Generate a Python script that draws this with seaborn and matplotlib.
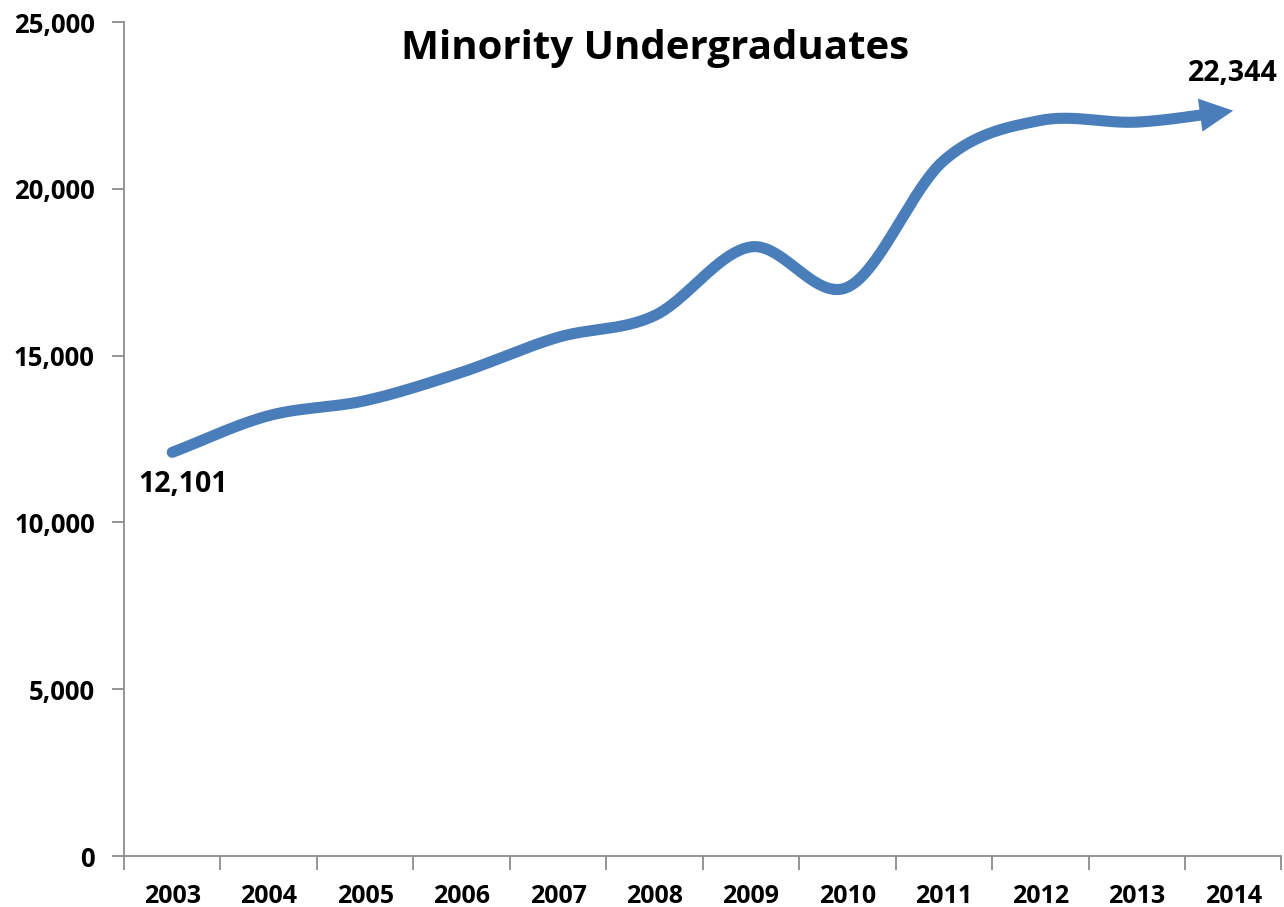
import numpy as np
import seaborn as sns
import matplotlib.pyplot as plt
from matplotlib.ticker import FuncFormatter, FixedLocator

years = ["2003", "2004", "2005", "2006", "2007", "2008",
         "2009", "2010", "2011", "2012", "2013", "2014"]
students = [12101, 13200, 13650, 14500, 15550, 16200,
            18260, 17050, 20850, 22050, 22000, 22344]
title = "Minority Undergraduates"
line_color = "#4A7EBB"

sns.set_style("white")
plt.rcParams['font.family'] = ['Open Sans', 'DejaVu Sans']
plt.rcParams['text.color'] = 'black'


# Excel-like smoothed line (Catmull-Rom through the points)
def smooth(xs, ys, n=40):
    xs = np.asarray(xs, float)
    ys = np.asarray(ys, float)
    px = np.concatenate([[2 * xs[0] - xs[1]], xs, [2 * xs[-1] - xs[-2]]])
    py = np.concatenate([[2 * ys[0] - ys[1]], ys, [2 * ys[-1] - ys[-2]]])
    out_x, out_y = [], []
    for i in range(1, len(px) - 2):
        t = np.linspace(0, 1, n, endpoint=False)
        for p, out in ((px, out_x), (py, out_y)):
            p0, p1, p2, p3 = p[i - 1], p[i], p[i + 1], p[i + 2]
            out.extend(0.5 * (2 * p1 + (-p0 + p2) * t
                              + (2 * p0 - 5 * p1 + 4 * p2 - p3) * t ** 2
                              + (-p0 + 3 * p1 - 3 * p2 + p3) * t ** 3))
    out_x.append(xs[-1])
    out_y.append(ys[-1])
    return np.array(out_x), np.array(out_y)


pos = np.arange(len(years))
sx, sy = smooth(pos, students)

fig = plt.figure(figsize=(12.84, 9.07), dpi=100)
ax = fig.add_axes([0.0966, 0.0562, 0.9014, 0.9195])

cut = len(sx) - 20
sns.lineplot(x=sx[:cut + 1], y=sy[:cut + 1], ax=ax, color=line_color,
             linewidth=8, sort=False, estimator=None,
             solid_capstyle="round")
# arrow head at the end
ax.annotate("", xy=(sx[-1], sy[-1]), xytext=(sx[cut], sy[cut]),
            arrowprops=dict(width=8, headwidth=24, headlength=24,
                            shrink=0, color=line_color, lw=0))

ax.set_xlim(-0.5, len(years) - 0.5)
ax.set_ylim(0, 25000)
ax.set_yticks(np.arange(0, 25001, 5000))
ax.yaxis.set_major_formatter(FuncFormatter(lambda v, p: f"{int(v):,}"))

ax.xaxis.set_major_locator(FixedLocator(np.arange(-0.5, len(years), 1.0)))
ax.set_xticklabels([])
ax.set_xticks(pos, minor=True)
ax.set_xticklabels(years, minor=True)
ax.tick_params(axis="x", which="major", length=10, width=1.3,
               color="#8c8c8c", direction="out", bottom=True)
ax.tick_params(axis="x", which="minor", length=0, pad=20,
               labelsize=18, labelcolor="black")
ax.tick_params(axis="y", length=9, width=1.3, color="#8c8c8c",
               direction="out", left=True, labelsize=18.5, pad=12,
               labelcolor="black")
for lab in ax.get_xticklabels(minor=True) + ax.get_yticklabels():
    lab.set_fontweight("bold")

for side in ["top", "right"]:
    ax.spines[side].set_visible(False)
for side in ["left", "bottom"]:
    ax.spines[side].set_color("#8c8c8c")
    ax.spines[side].set_linewidth(1.3)

ax.text(0.4585, 0.992, title, transform=ax.transAxes, ha="center", va="top",
        fontsize=29, fontweight="bold")
ax.annotate(f"{students[0]:,}", xy=(pos[0], students[0]),
            xytext=(8, -23), textcoords="offset points",
            ha="center", va="center", fontsize=20.5, fontweight="bold")
ax.annotate(f"{students[-1]:,}", xy=(pos[-1], students[-1]),
            xytext=(0, 27), textcoords="offset points",
            ha="center", va="center", fontsize=20.5, fontweight="bold")

fig.savefig("out.png", dpi=100)
